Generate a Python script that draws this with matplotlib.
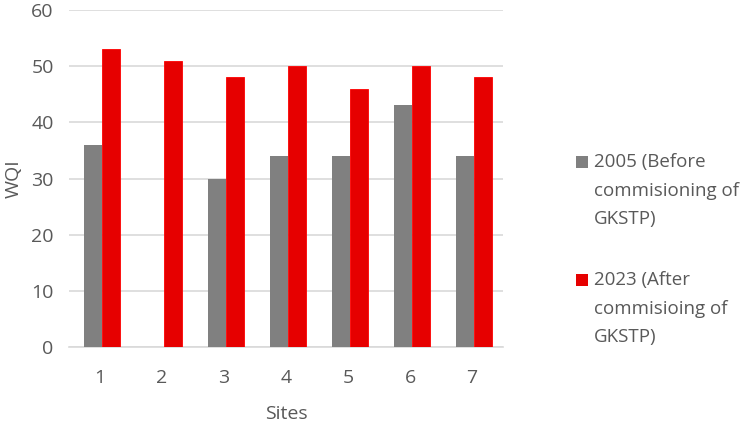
import matplotlib.pyplot as plt
import numpy as np
from matplotlib.patches import Rectangle

plt.rcParams['font.family'] = ['Open Sans', 'DejaVu Sans']

# Data
sites = ['1', '2', '3', '4', '5', '6', '7']
wqi_2005 = [36, 0, 30, 34, 34, 43, 34]
wqi_2023 = [53, 51, 48, 50, 46, 50, 48]
label_2005 = '2005 (Before\ncommisioning of\nGKSTP)'
label_2023 = '2023 (After\ncommisioing of\nGKSTP)'

text_color = '#595959'
gray = '#808080'
red = '#E60000'

fig = plt.figure(figsize=(7.47, 4.22), dpi=100)
ax = fig.add_axes([69 / 747, 1 - 347 / 422, 434 / 747, 337 / 422])

x = np.arange(len(sites))
w = 0.29
ax.bar(x - w / 2 + 0.03, wqi_2005, width=w, color=gray, zorder=3)
ax.bar(x + w / 2 + 0.03, wqi_2023, width=w, color=red, edgecolor='#FF0000', linewidth=0.6, zorder=3)

ax.set_xlim(-0.5, len(sites) - 0.5)
ax.set_ylim(0, 60)
ax.set_yticks(range(0, 61, 10))
ax.set_xticks(x)
ax.set_xticklabels(sites)
ax.grid(axis='y', color='#D9D9D9', linewidth=1.2, zorder=0)
for s in ['top', 'right', 'left']:
    ax.spines[s].set_visible(False)
ax.spines['bottom'].set_color('#D9D9D9')
ax.spines['bottom'].set_linewidth(1.2)
ax.tick_params(length=0, labelsize=14, colors=text_color)
ax.tick_params(axis='x', pad=16)
ax.tick_params(axis='y', pad=11)

ax.set_xlabel('Sites', fontsize=14, color=text_color, labelpad=13)
ax.set_ylabel('WQI', fontsize=14, color=text_color, labelpad=6)

# Legend entries drawn by hand: marker next to the first line of each label
def legend_entry(color, label, y_px):
    fig.patches.append(Rectangle((576 / 747, 1 - (y_px + 6) / 422), 12 / 747, 12 / 422,
                                 transform=fig.transFigure, facecolor=color, edgecolor='none'))
    for i, line in enumerate(label.split('\n')):
        fig.text(594 / 747, 1 - (y_px + i * 28.5) / 422, line, fontsize=13.5,
                 color=text_color, va='center', ha='left')

legend_entry(gray, label_2005, 162)
legend_entry(red, label_2023, 280)

plt.savefig('out.png', dpi=100)
